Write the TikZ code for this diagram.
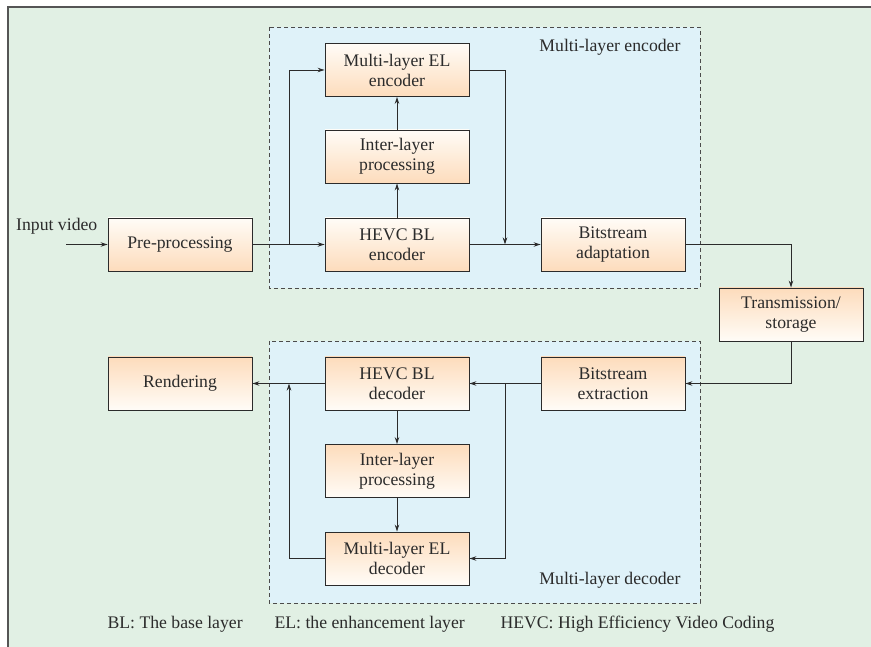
\documentclass[tikz,border=0pt]{standalone}
\usepackage{fontspec}
\setmainfont{Liberation Serif}
\newfontfamily\figserif{Liberation Serif}
\usetikzlibrary{arrows.meta}
\definecolor{panelgreen}{HTML}{E1F0E4}
\definecolor{groupblue}{HTML}{DFF2F9}
\definecolor{peach}{HTML}{FDDCBC}
\definecolor{cream}{HTML}{FFFCF7}
\definecolor{ink}{HTML}{2B2B2B}
\tikzset{
  x=1pt, y=-1pt,
  every node/.style={font=\figserif\fontsize{17.7}{20}\selectfont, text=ink},
  blk/.style={draw=ink, line width=0.9pt, minimum width=144pt, minimum height=53pt,
              align=center, inner sep=2pt},
  encblk/.style={blk, top color=cream, bottom color=peach},
  decblk/.style={blk, top color=peach, bottom color=cream},
  group/.style={draw=ink!85, dashed, dash pattern=on 4pt off 3pt, line width=0.8pt, fill=groupblue},
  link/.style={draw=ink, line width=0.8pt},
  arr/.style={link, -{Stealth[length=7pt,width=4.5pt]}},
}
\begin{document}
\begin{tikzpicture}
% panel
\useasboundingbox (0,0) rectangle (871,647);
\fill[white] (0,0) rectangle (871,647);
\fill[panelgreen] (8,7) rectangle (871,647);
\draw[ink!80, line width=1.2pt] (8,647) -- (8,7) -- (871,7);

% dashed groups
\path[group] (269,27) rectangle (700,288);
\path[group] (269,341) rectangle (700,603);
\node[anchor=east] (enclabel) at (684,47) {Multi-layer encoder};
\node[anchor=east] (declabel) at (684,580) {Multi-layer decoder};

% blocks
\node[encblk] (pre)    at (180,244.5) {Pre-processing};
\node[encblk] (elenc)  at (397,70)    {Multi-layer EL\\encoder};
\node[encblk] (ilenc)  at (397,156.5) {Inter-layer\\processing};
\node[encblk] (blenc)  at (397,244.5) {HEVC BL\\encoder};
\node[encblk] (badapt) at (613,244.5) {Bitstream\\adaptation};
\node[decblk] (trans)  at (791,314.5) {Transmission/\\storage};
\node[decblk] (bextr)  at (613,383.5) {Bitstream\\extraction};
\node[decblk] (render) at (180,383.5) {Rendering};
\node[decblk] (bldec)  at (397,383.5) {HEVC BL\\decoder};
\node[decblk] (ildec)  at (397,471)   {Inter-layer\\processing};
\node[decblk] (eldec)  at (397,558.5) {Multi-layer EL\\decoder};

% input
\node[anchor=south west, inner sep=0pt] (inlabel) at (16,234) {Input video};
\coordinate (instart) at (66,244.5);
\draw[arr] (instart) -- (pre.west);

% encoder connections
\coordinate (split) at (289,244.5);
\coordinate (join)  at (505,244.5);
\draw[arr] (pre.east) -- (blenc.west);
\draw[arr] (split) |- (elenc.west);
\draw[arr] (blenc.north) -- (ilenc.south);
\draw[arr] (ilenc.north) -- (elenc.south);
\draw[arr] (elenc.east) -| (join);
\draw[arr] (blenc.east) -- (badapt.west);
\draw[arr] (badapt.east) -| (trans.north);

% decoder connections
\coordinate (dsplit) at (505,383.5);
\coordinate (dmerge) at (289,383.5);
\draw[arr] (trans.south) |- (bextr.east);
\draw[arr] (bextr.west) -- (bldec.east);
\draw[arr] (dsplit) |- (eldec.east);
\draw[arr] (bldec.west) -- (render.east);
\draw[arr] (bldec.south) -- (ildec.north);
\draw[arr] (ildec.south) -- (eldec.north);
\draw[arr] (eldec.west) -| (dmerge);

% legend
\node[anchor=west] (lgbl)   at (104,624) {BL: The base layer};
\node[anchor=west] (lgel)   at (271,624) {EL: the enhancement layer};
\node[anchor=west] (lghevc) at (497,624) {HEVC: High Efficiency Video Coding};
\end{tikzpicture}
\end{document}
